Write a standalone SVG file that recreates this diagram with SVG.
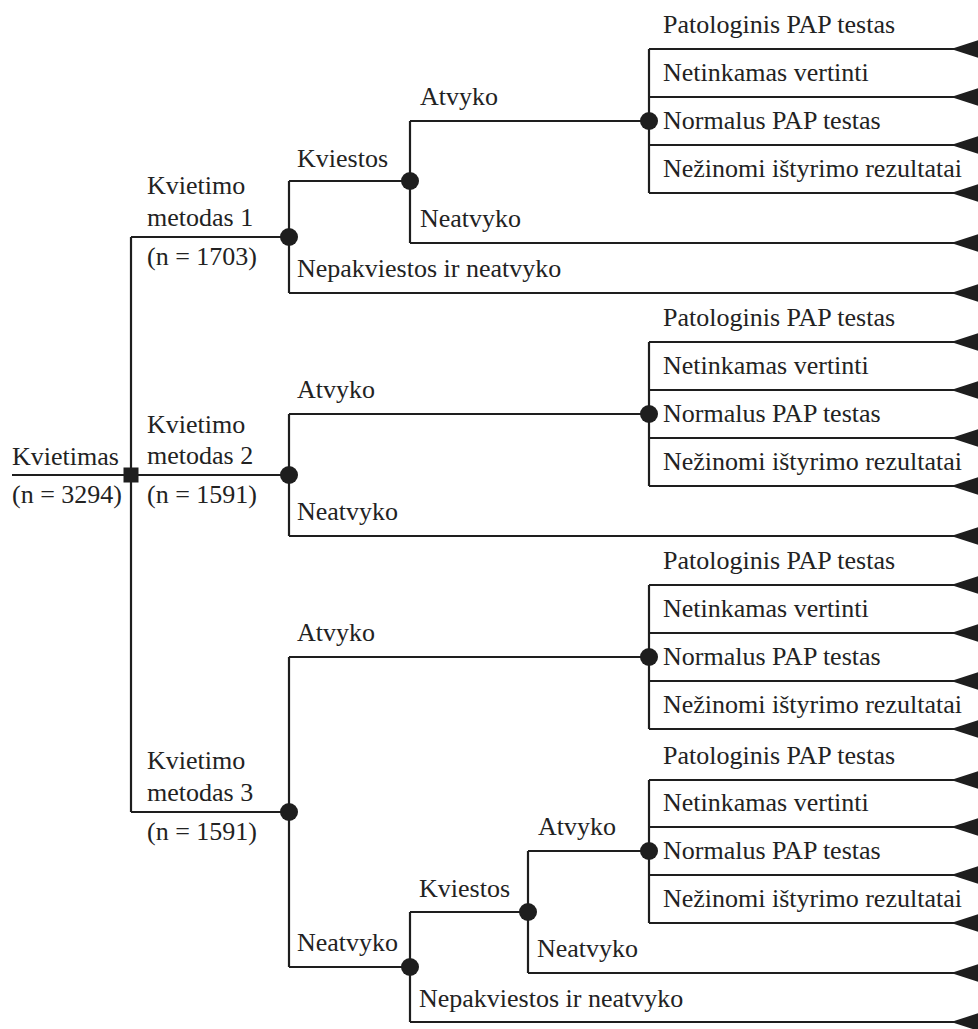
<svg xmlns="http://www.w3.org/2000/svg" width="978" height="1029" viewBox="0 0 978 1029">
<defs>
<style>
.e{stroke:#1e1e1e;stroke-width:2.2;fill:none}
.t{stroke:#1e1e1e;stroke-width:2.2;fill:none;marker-end:url(#term)}
.c{fill:#1e1e1e}
text{font-family:"Liberation Serif","Times New Roman",serif;font-size:26px;fill:#222}
</style>
<marker id="term" markerUnits="userSpaceOnUse" markerWidth="28" markerHeight="20" viewBox="0 0 28 20" refX="27" refY="10" orient="auto">
<path d="M0,10 L28,1 L28,19 Z" fill="#1e1e1e"/>
</marker>
</defs>
<rect width="978" height="1029" fill="#fff"/>
<g id="connectors">
<!-- root -->
<path class="e" d="M12,475 H131 M131,237 V812"/>
<!-- method 1 -->
<path class="e" d="M131,237 H289 M289,181 V293 M289,181 H410 M410,121 V243 M410,121 H649 M649,49 V193"/>
<path class="t" d="M649,49 H978"/>
<path class="t" d="M649,97 H978"/>
<path class="t" d="M649,145 H978"/>
<path class="t" d="M649,193 H978"/>
<path class="t" d="M410,243 H978"/>
<path class="t" d="M289,293 H978"/>
<!-- method 2 -->
<path class="e" d="M131,475 H289 M289,414 V536 M289,414 H649 M649,342 V486"/>
<path class="t" d="M649,342 H978"/>
<path class="t" d="M649,390 H978"/>
<path class="t" d="M649,438 H978"/>
<path class="t" d="M649,486 H978"/>
<path class="t" d="M289,536 H978"/>
<!-- method 3 -->
<path class="e" d="M131,812 H289 M289,657 V967 M289,657 H649 M649,585 V729"/>
<path class="t" d="M649,585 H978"/>
<path class="t" d="M649,633 H978"/>
<path class="t" d="M649,681 H978"/>
<path class="t" d="M649,729 H978"/>
<path class="e" d="M289,967 H410 M410,912 V1022 M410,912 H528 M528,851 V973 M528,851 H649 M649,780 V923"/>
<path class="t" d="M649,780 H978"/>
<path class="t" d="M649,827 H978"/>
<path class="t" d="M649,875 H978"/>
<path class="t" d="M649,923 H978"/>
<path class="t" d="M528,973 H978"/>
<path class="t" d="M410,1022 H978"/>
</g>
<g id="root">
<rect class="c" x="123.5" y="467.5" width="15" height="15"/>
<text x="12" y="465">Kvietimas</text>
<text x="12" y="503">(n = 3294)</text>
</g>
<g id="method1">
<circle class="c" cx="289" cy="237" r="9"/>
<text x="147" y="194">Kvietimo</text>
<text x="147" y="226">metodas 1</text>
<text x="147" y="265">(n = 1703)</text>
</g>
<g id="m1-kviestos">
<circle class="c" cx="410" cy="181" r="9"/>
<text x="297" y="167">Kviestos</text>
<text x="297" y="277">Nepakviestos ir neatvyko</text>
</g>
<g id="m1-atvyko">
<circle class="c" cx="649" cy="121" r="9"/>
<text x="420" y="105">Atvyko</text>
<text x="420" y="227">Neatvyko</text>
<text x="663" y="33">Patologinis PAP testas</text>
<text x="663" y="81">Netinkamas vertinti</text>
<text x="663" y="129">Normalus PAP testas</text>
<text x="663" y="177">Nežinomi ištyrimo rezultatai</text>
</g>
<g id="method2">
<circle class="c" cx="289" cy="475" r="9"/>
<text x="147" y="433">Kvietimo</text>
<text x="147" y="464">metodas 2</text>
<text x="147" y="503">(n = 1591)</text>
<text x="297" y="398">Atvyko</text>
<text x="297" y="520">Neatvyko</text>
</g>
<g id="m2-atvyko">
<circle class="c" cx="649" cy="414" r="9"/>
<text x="663" y="326">Patologinis PAP testas</text>
<text x="663" y="374">Netinkamas vertinti</text>
<text x="663" y="422">Normalus PAP testas</text>
<text x="663" y="470">Nežinomi ištyrimo rezultatai</text>
</g>
<g id="method3">
<circle class="c" cx="289" cy="812" r="9"/>
<text x="147" y="769">Kvietimo</text>
<text x="147" y="801">metodas 3</text>
<text x="147" y="840">(n = 1591)</text>
<text x="297" y="641">Atvyko</text>
<text x="297" y="951">Neatvyko</text>
</g>
<g id="m3-atvyko">
<circle class="c" cx="649" cy="657" r="9"/>
<text x="663" y="569">Patologinis PAP testas</text>
<text x="663" y="617">Netinkamas vertinti</text>
<text x="663" y="665">Normalus PAP testas</text>
<text x="663" y="713">Nežinomi ištyrimo rezultatai</text>
</g>
<g id="m3-neatvyko">
<circle class="c" cx="410" cy="967" r="9"/>
<text x="419" y="897">Kviestos</text>
<text x="419" y="1007">Nepakviestos ir neatvyko</text>
</g>
<g id="m3-kviestos">
<circle class="c" cx="528" cy="912" r="9"/>
<text x="538" y="835">Atvyko</text>
<text x="537" y="957">Neatvyko</text>
</g>
<g id="m3-kv-atvyko">
<circle class="c" cx="649" cy="851" r="9"/>
<text x="663" y="764">Patologinis PAP testas</text>
<text x="663" y="811">Netinkamas vertinti</text>
<text x="663" y="859">Normalus PAP testas</text>
<text x="663" y="907">Nežinomi ištyrimo rezultatai</text>
</g>
</svg>
